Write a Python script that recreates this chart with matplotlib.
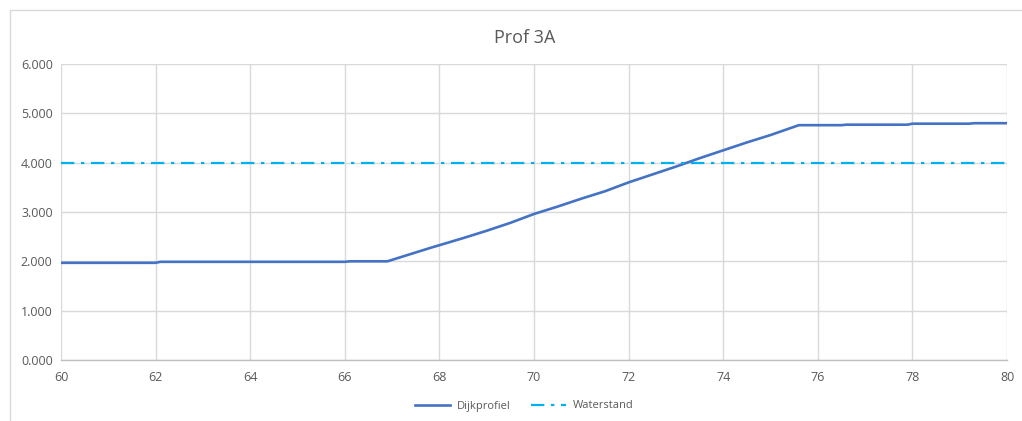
import matplotlib
matplotlib.use("Agg")
import matplotlib.pyplot as plt
from matplotlib.patches import Rectangle

# Dike profile (distance vs. height) and water level
profile_x = [60, 62, 62.1, 66, 66.1, 66.9, 67.3, 67.8, 68.5, 69, 69.5, 70, 70.5,
             71, 71.5, 72, 72.5, 73, 73.5, 74, 74.5, 75, 75.6, 76.5, 76.6, 77.9,
             78, 79.2, 79.3, 80]
profile_y = [1.97, 1.97, 1.99, 1.99, 2.00, 2.00, 2.12, 2.27, 2.47, 2.62, 2.78,
             2.96, 3.11, 3.27, 3.42, 3.60, 3.76, 3.92, 4.09, 4.25, 4.41, 4.56,
             4.76, 4.76, 4.77, 4.77, 4.79, 4.79, 4.80, 4.80]
water_x = [60, 80]
water_y = [4.0, 4.0]

x_ticks = [60, 62, 64, 66, 68, 70, 72, 74, 76, 78, 80]
y_ticks = [0, 1, 2, 3, 4, 5, 6]

plt.rcParams['font.family'] = ['Open Sans', 'DejaVu Sans']

W, H = 1022, 421
fig = plt.figure(figsize=(W / 100, H / 100), dpi=100)
fig.patch.set_facecolor('white')

# Outer chart frame
fig.patches.append(Rectangle((10 / W, -0.1), 1.2, (H - 10) / H + 0.1,
                             transform=fig.transFigure, fill=False,
                             edgecolor='#d9d9d9', linewidth=1.0))

ax = fig.add_axes([61 / W, (H - 360) / H, (1007 - 61) / W, (360 - 64) / H])

ax.plot(profile_x, profile_y, color='#4472C4', linewidth=1.9, label='Dijkprofiel',
        zorder=3)
ax.plot(water_x, water_y, color='#00B0F0', linewidth=1.6, linestyle=(0, (6, 3, 1.5, 3)),
        label='Waterstand', zorder=3)

ax.set_xlim(60, 80)
ax.set_ylim(0, 6)
ax.set_xticks(x_ticks)
ax.set_yticks(y_ticks)
ax.set_yticklabels([f"{v:.3f}" for v in y_ticks])

ax.grid(True, color='#d9d9d9', linewidth=1.0)
ax.set_axisbelow(True)
for side in ['top', 'right', 'left']:
    ax.spines[side].set_visible(False)
ax.spines['bottom'].set_color('#bfbfbf')
ax.spines['bottom'].set_linewidth(1.0)
ax.tick_params(axis='both', length=0, colors='#595959', labelsize=9)
ax.tick_params(axis='x', pad=8)
ax.tick_params(axis='y', pad=6)

fig.text(0.513, (H - 38) / H, 'Prof 3A', ha='center', va='center',
         fontsize=13, color='#595959')

fig.legend(loc='center', bbox_to_anchor=(0.513, (H - 406) / H), ncol=2,
           frameon=False, fontsize=8, handlelength=3.2, handletextpad=0.6,
           columnspacing=1.8, labelcolor='#595959')

fig.savefig('out.png', dpi=100, facecolor='white')
